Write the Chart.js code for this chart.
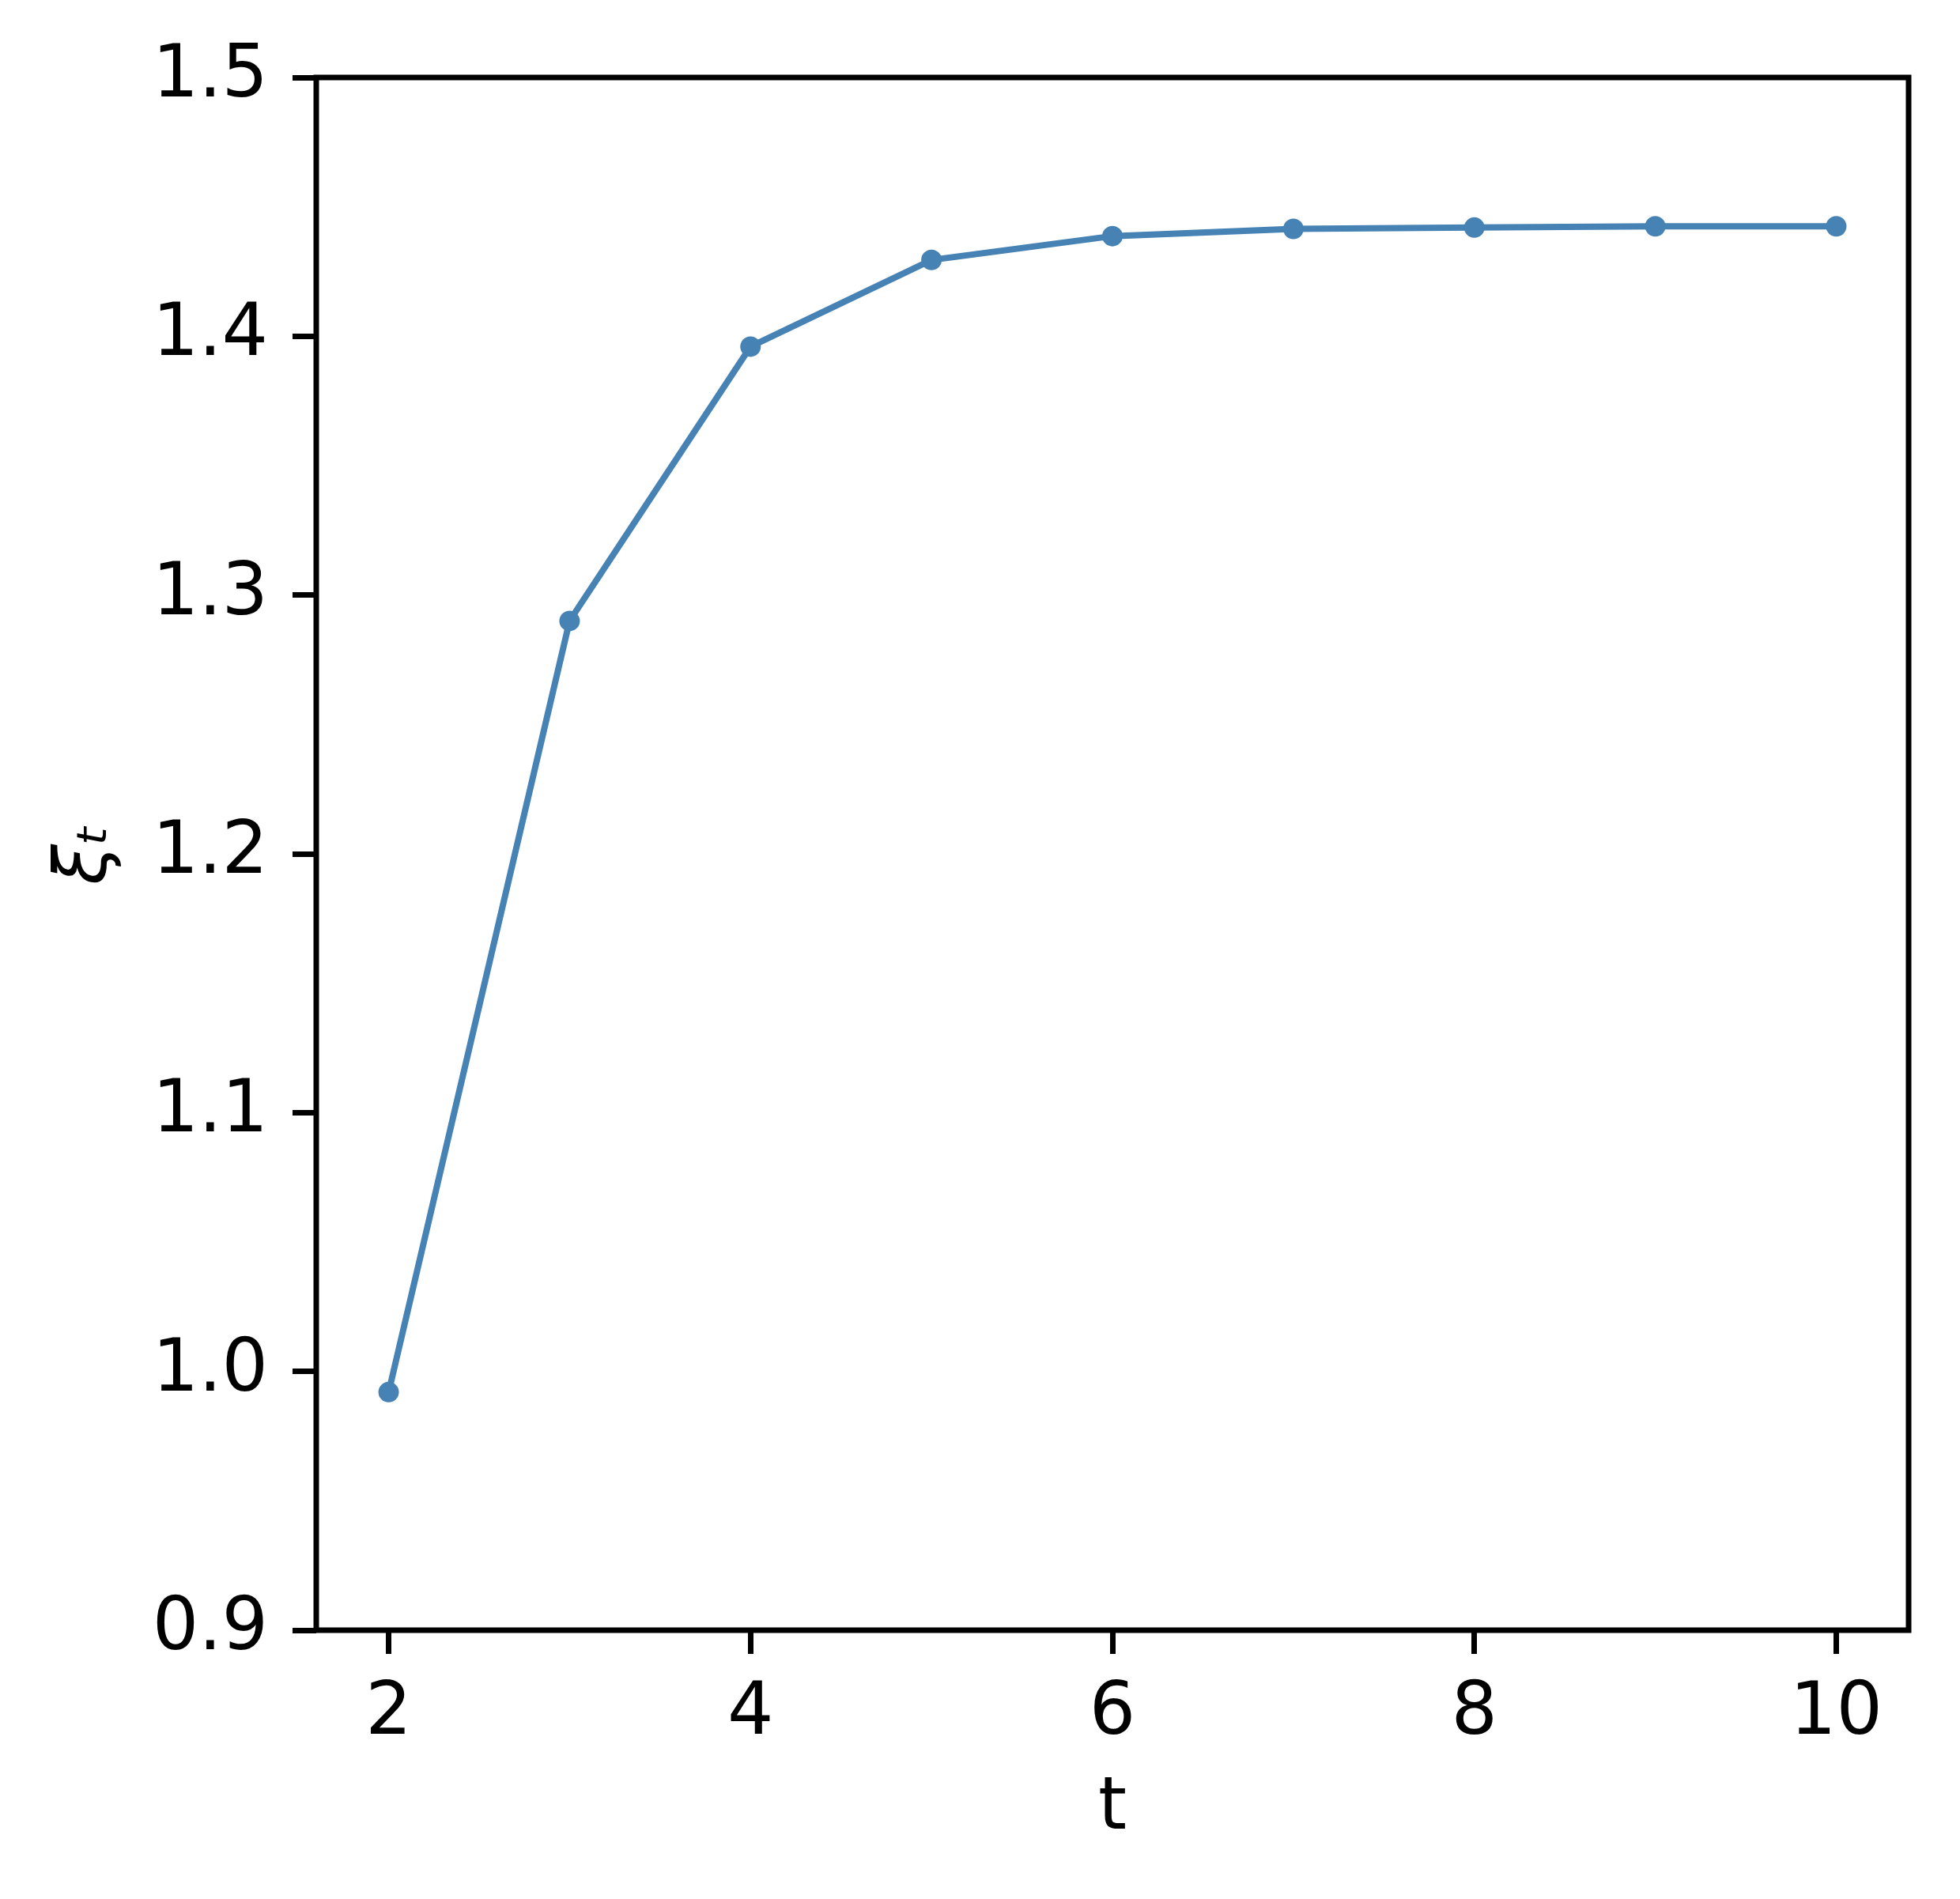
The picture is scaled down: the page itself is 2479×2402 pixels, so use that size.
<!DOCTYPE html>
<html>
<head>
<meta charset="utf-8">
<script src="https://cdn.jsdelivr.net/npm/chart.js@4/dist/chart.umd.min.js"></script>
<style>
  html, body { margin: 0; padding: 0; background: #fff; }
  #wrap { width: 2479px; height: 2402px; }
</style>
</head>
<body>
<div id="wrap"><canvas id="xiChart" width="2479" height="2402"></canvas></div>
<script>
document.addEventListener("DOMContentLoaded", () => {

  const tValues = [2, 3, 4, 5, 6, 7, 8, 9, 10];
  const xiValues = [0.992, 1.290, 1.396, 1.4295, 1.4387, 1.4415, 1.4420, 1.4425, 1.4425];
  const xTicks = [2, 4, 6, 8, 10];
  const yTicks = [0.9, 1.0, 1.1, 1.2, 1.3, 1.4, 1.5];

  Chart.defaults.font.family = 'DejaVu Sans';
  Chart.defaults.font.size = 92;
  Chart.defaults.color = '#000';

  // frame around the plot (matplotlib spines)
  const frame = {
    id: 'frame',
    afterDatasetsDraw(chart) {
      const a = chart.chartArea;
      const c = chart.ctx;
      c.save();
      c.strokeStyle = '#000';
      c.lineWidth = 7;
      c.strokeRect(a.left, a.top, a.right - a.left, a.bottom - a.top);
      c.restore();
    }
  };

  const ctx = document.getElementById('xiChart').getContext('2d');

  new Chart(ctx, {
    type: 'line',
    data: {
      datasets: [{
        data: tValues.map((t, i) => ({ x: t, y: xiValues[i] })),
        borderColor: '#4682b4',
        backgroundColor: '#4682b4',
        borderWidth: 8,
        pointRadius: 13,
        pointBorderWidth: 0,
        pointBackgroundColor: '#4682b4',
        fill: false,
        tension: 0
      }]
    },
    options: {
      responsive: false,
      animation: false,
      devicePixelRatio: 1,
      layout: { padding: { top: 98, right: 65, left: 0, bottom: 0 } },
      plugins: {
        legend: { display: false },
        tooltip: { enabled: false }
      },
      scales: {
        x: {
          type: 'linear',
          min: 1.6,
          max: 10.4,
          afterFit: (s) => { s.height = 340; },
          afterBuildTicks: (s) => { s.ticks = xTicks.map(v => ({ value: v })); },
          grid: { drawOnChartArea: false, tickLength: 30, tickWidth: 7, color: '#000' },
          border: { display: false },
          ticks: { padding: 22, maxRotation: 0, callback: (v) => String(v) },
          title: { display: true, text: 't', padding: { top: 0, bottom: 58 } }
        },
        y: {
          type: 'linear',
          min: 0.9,
          max: 1.5,
          afterFit: (s) => { s.width = 400; },
          afterBuildTicks: (s) => { s.ticks = yTicks.map(v => ({ value: v })); },
          grid: { drawOnChartArea: false, tickLength: 30, tickWidth: 7, color: '#000' },
          border: { display: false },
          ticks: { padding: 31, callback: (v) => Number(v).toFixed(1) },
          title: {
            display: true,
            text: 'ξₜ',
            font: { style: 'italic', size: 92 },
            padding: { top: 55, bottom: 0 }
          }
        }
      }
    },
    plugins: [frame]
  });

});
</script>
</body>
</html>
